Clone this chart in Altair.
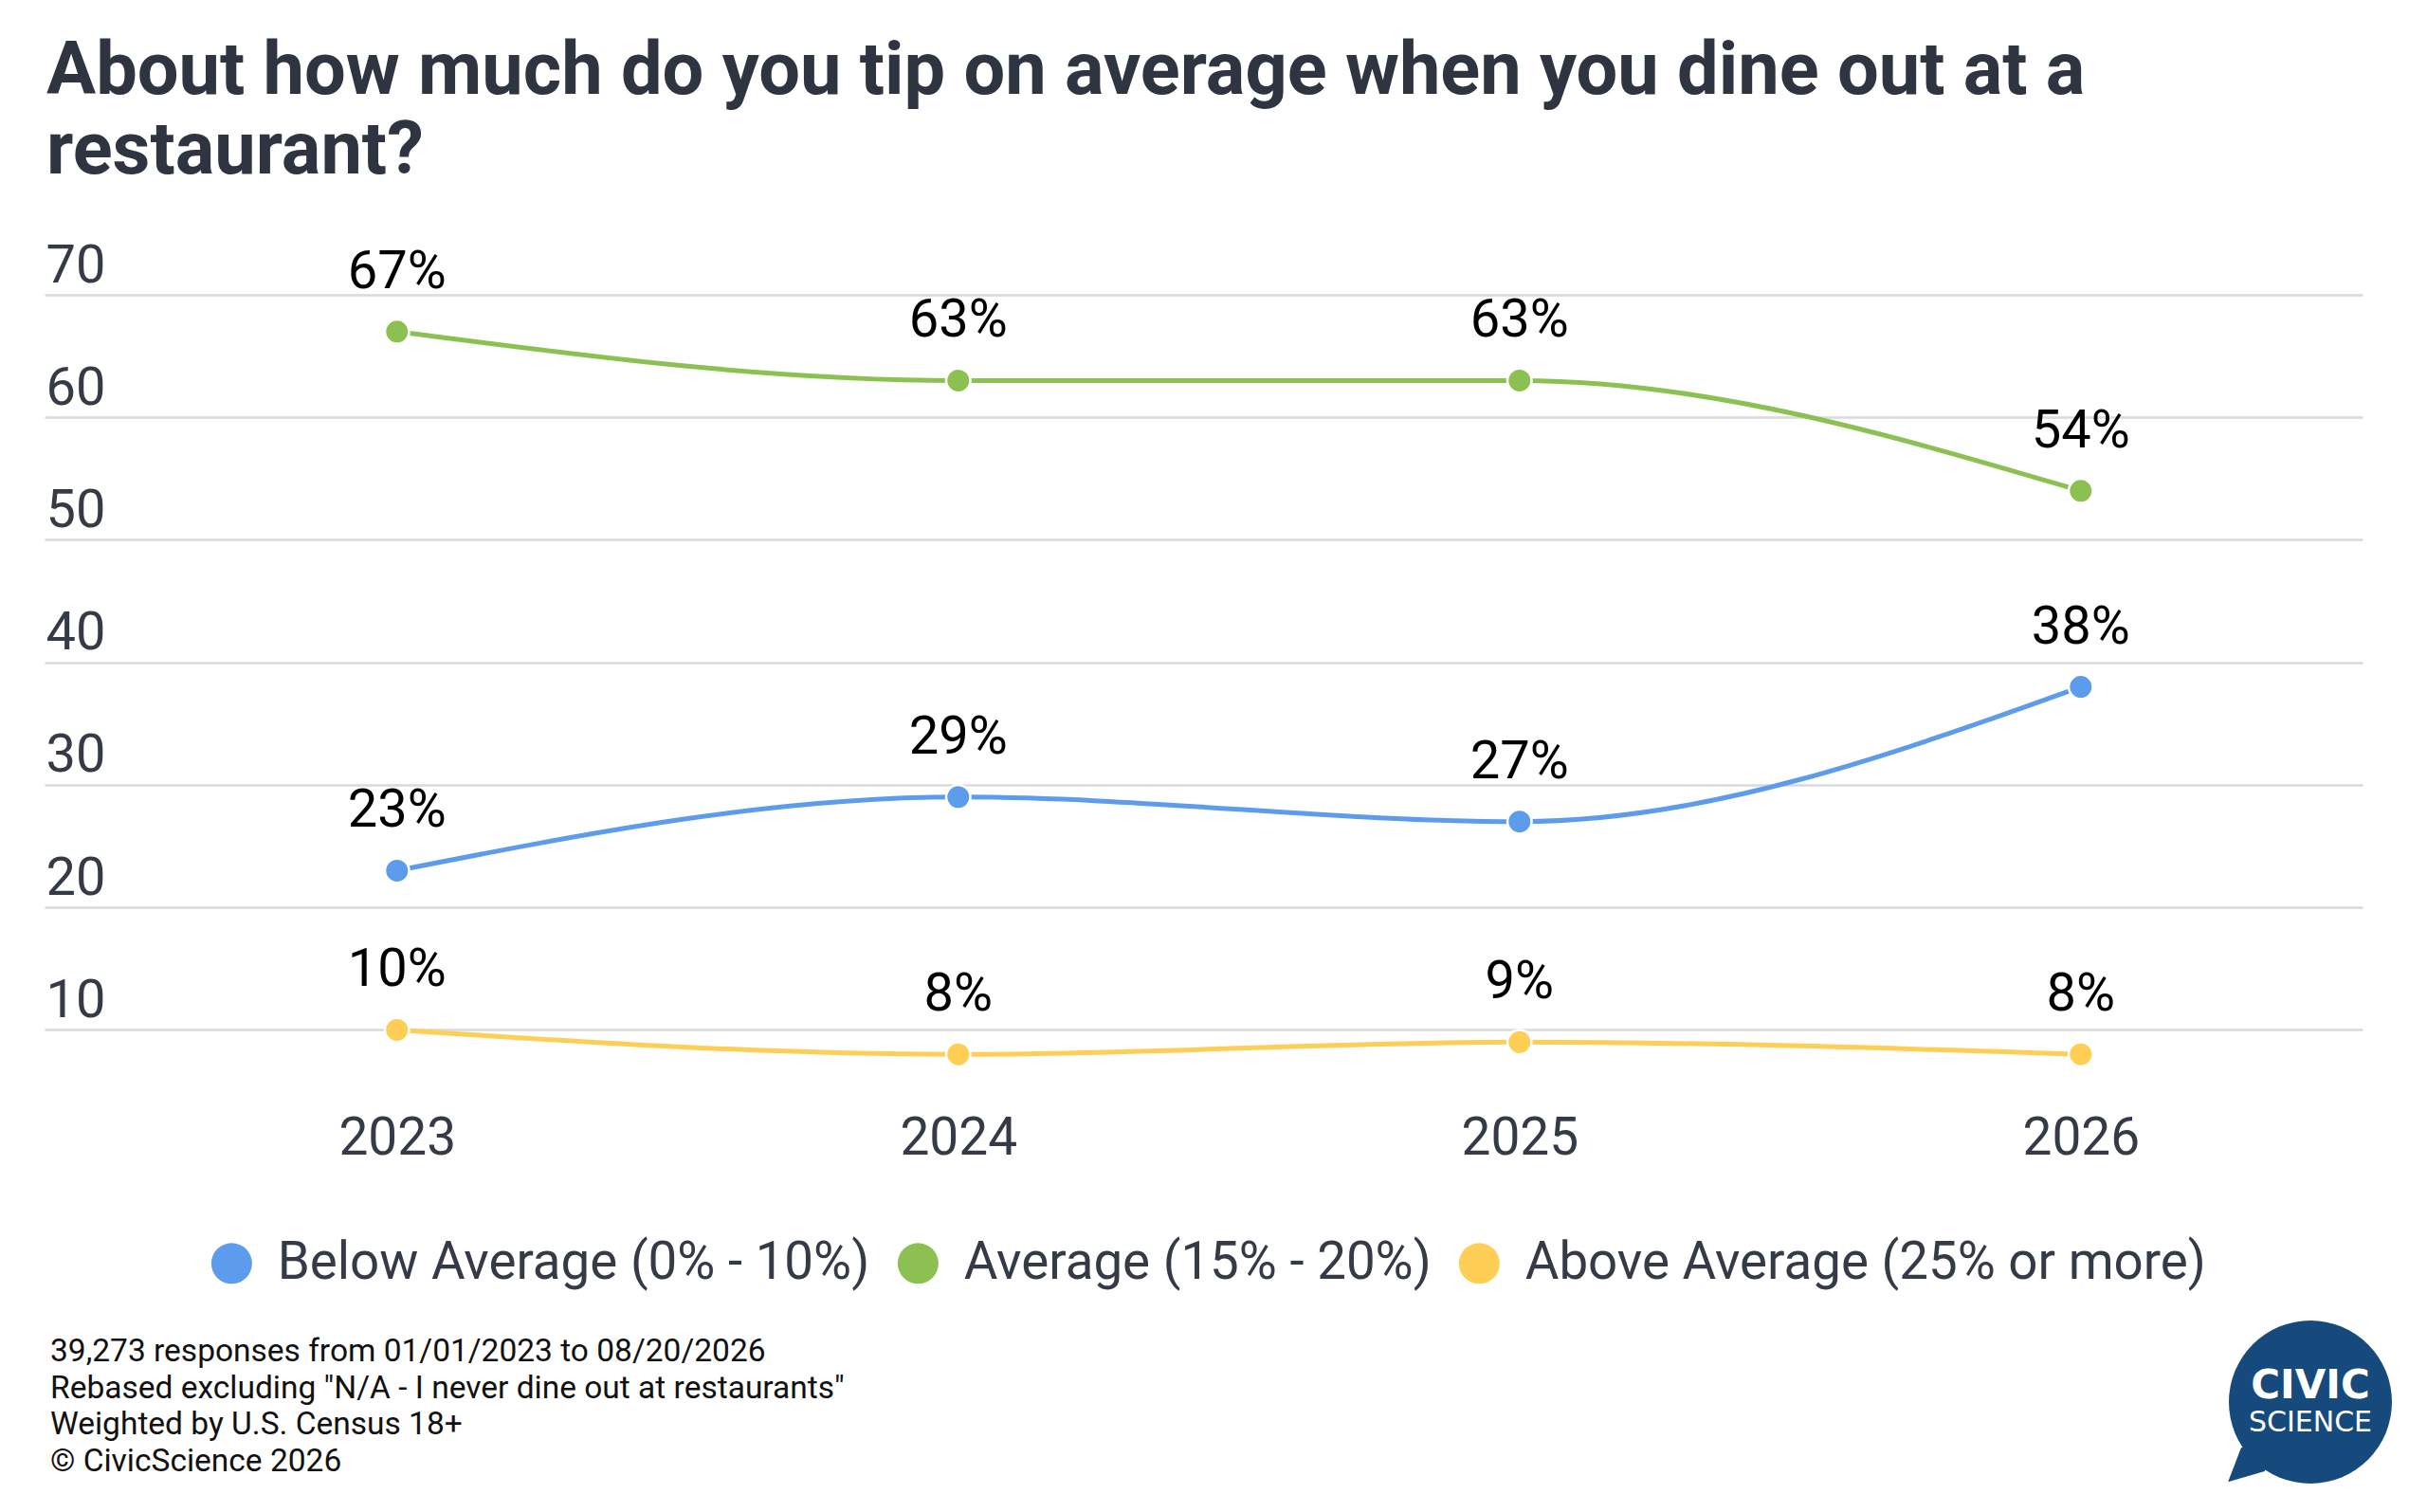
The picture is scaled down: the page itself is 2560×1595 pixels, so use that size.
import altair as alt
import pandas as pd

# ---------------- data ----------------
years = [2023, 2024, 2025, 2026]
series_names = ["Below Average (0% - 10%)", "Average (15% - 20%)", "Above Average (25% or more)"]
below_avg = [23, 29, 27, 38]
average = [67, 63, 63, 54]
above_avg = [10, 8, 9, 8]
series_colors = ["#5D9CEC", "#8CC152", "#FFCE54"]
y_ticks = [10, 20, 30, 40, 50, 60, 70]

title_lines = ["About how much do you tip on average when you dine out at a", "restaurant?"]
footnote_lines = [
    "39,273 responses from 01/01/2023 to 08/20/2026",
    'Rebased excluding "N/A - I never dine out at restaurants"',
    "Weighted by U.S. Census 18+",
    "\u00a9 CivicScience 2026",
]

rows = []
for name, vals in zip(series_names, [below_avg, average, above_avg]):
    for yr, v in zip(years, vals):
        rows.append({"year": yr, "series": name, "line_series": name,
                     "value": v, "label": f"{v}%"})
df = pd.DataFrame(rows)

FONT = "Roboto"
W, H = 2445, 840

x_enc = alt.X("year:Q",
              scale=alt.Scale(domain=[2022.372, 2026.502], nice=False, zero=False),
              axis=alt.Axis(values=years, format="d", title=None, grid=False, domain=False,
                            ticks=False, labelFontSize=55, labelColor="#343b47", labelFont=FONT,
                            labelBaseline="alphabetic", labelPadding=66, labelFlush=False,
                            labelAngle=0))
y_enc = alt.Y("value:Q",
              scale=alt.Scale(domain=[5, 70], nice=False, zero=False),
              axis=alt.Axis(values=y_ticks, title=None, grid=True, gridColor="#d9d9de",
                            gridWidth=2.5, domain=False, ticks=False, labelAlign="left",
                            labelPadding=-1, labelBaseline="alphabetic", labelOffset=-14,
                            labelFontSize=56, labelColor="#343b47", labelFont=FONT))

base = alt.Chart(df)

# stroke scale: same mapping, listed in reverse so it stays a separate (legend-less) scale
lines = base.mark_line(interpolate="monotone", strokeWidth=5).encode(
    x=x_enc, y=y_enc,
    stroke=alt.Stroke("line_series:N",
                      scale=alt.Scale(domain=series_names[::-1], range=series_colors[::-1]),
                      legend=None),
)

points = base.mark_circle(size=650, opacity=1, stroke="white", strokeWidth=2.5).encode(
    x=x_enc, y=y_enc,
    color=alt.Color("series:N", scale=alt.Scale(domain=series_names, range=series_colors),
                    legend=alt.Legend(title=None, orient="none", direction="horizontal",
                                      legendX=170, legendY=994, symbolType="circle",
                                      symbolSize=1849, symbolStrokeWidth=0, symbolOpacity=1,
                                      labelFontSize=54.7, labelFont=FONT, labelColor="#343b47",
                                      labelOffset=21, columnPadding=23, padding=0,
                                      labelLimit=1000)),
)

labels = base.mark_text(fontSize=56, font=FONT, color="#000000", baseline="alphabetic",
                        align="center", dy=-46).encode(
    x=x_enc, y=y_enc, text="label:N"
)

one = pd.DataFrame({"k": [1]})

title = alt.Chart(one).mark_text(text=title_lines, align="left", baseline="alphabetic",
                                 fontSize=77.6, font=FONT, fontWeight="bold", color="#2e3440",
                                 lineHeight=84).encode(
    x=alt.value(2), y=alt.value(-212)
)

footnote = alt.Chart(one).mark_text(text=footnote_lines, align="left", baseline="alphabetic",
                                    fontSize=33.5, font=FONT, color="#111111",
                                    lineHeight=38.5).encode(
    x=alt.value(6), y=alt.value(1125)
)

logo_circle = alt.Chart(one).mark_point(shape="circle", filled=True, size=29584,
                                        color="#174a7c", opacity=1, strokeWidth=0).encode(
    x=alt.value(2390), y=alt.value(1168)
)
logo_tail = alt.Chart(one).mark_point(shape="M-0.85,0.56 L-1.01,0.98 L-0.56,0.85 L-0.5,0.5 Z",
                                      filled=True, size=29584, color="#174a7c", opacity=1,
                                      strokeWidth=0).encode(
    x=alt.value(2390), y=alt.value(1168)
)
logo_civic = alt.Chart(one).mark_text(text="CIVIC", font="DejaVu Sans", fontWeight="bold",
                                      fontSize=42, color="white", align="center",
                                      baseline="alphabetic").encode(
    x=alt.value(2390), y=alt.value(1164)
)
logo_science = alt.Chart(one).mark_text(text="SCIENCE", font="DejaVu Sans", fontSize=30,
                                        color="white", align="center",
                                        baseline="alphabetic").encode(
    x=alt.value(2390), y=alt.value(1199)
)

chart = alt.layer(title, lines, points, labels, footnote, logo_circle, logo_tail, logo_civic,
                  logo_science).properties(
    width=W, height=H,
    autosize=alt.AutoSizeParams(type="none"),
    padding={"left": 39, "top": 303, "right": 40, "bottom": 420},
    background="white",
).configure_view(stroke=None)

chart.save("out.html", embed_options={"renderer": "svg", "actions": False})
